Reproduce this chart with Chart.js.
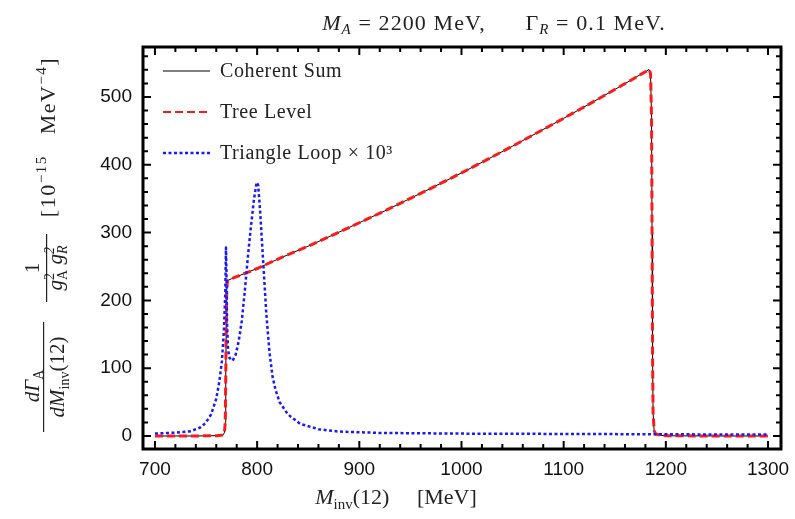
<!DOCTYPE html>
<html>
<head>
<meta charset="utf-8">
<script src="https://cdn.jsdelivr.net/npm/chart.js@4.4.0/dist/chart.umd.min.js"></script>
<style>
  html, body { margin: 0; background: #fff; }
  #wrap { width: 795px; height: 519px; }
</style>
</head>
<body>
<div id="wrap"><canvas id="chart"></canvas></div>
<script>
// values (MeV, 10^-15 MeV^-4)
const massTree = [700, 740, 760, 765, 767, 768, 768.8, 769.3, 769.8, 770.3, 771, 775, 780, 800, 825, 850, 875, 900, 925, 950,
  975, 1000, 1025, 1050, 1075, 1100, 1125, 1150, 1165, 1175, 1181, 1183.5, 1185, 1186, 1186.5, 1187, 1187.5, 1188.5, 1190, 1195,
  1200, 1250, 1300];
const treeLevel = [0, 0, 0.5, 1, 2, 5, 20, 90, 170, 215, 229, 232, 235, 247, 264, 280, 297, 314.5, 332, 350.5,
  369, 388, 407.5, 427.5, 448, 468.5, 489.5, 511, 524, 533, 538, 540.5, 535, 470, 300, 120, 35, 8, 3, 1,
  0.3, 0, 0];
const coherentSum = [0, 0, 0.5, 1, 2, 5, 20, 90, 170, 215, 229, 232, 235, 247, 264, 280, 297, 314.5, 332, 350.5,
  369, 388, 407.5, 427.5, 448, 468.5, 489.5, 511, 524, 533, 538, 540.5, 535, 470, 300, 120, 35, 8, 3, 1,
  0.3, 0, 0];

const massLoop = [700, 720, 735, 745, 750, 755, 760, 763, 765.5, 767.5, 768.8, 769.5, 770, 770.5, 771.5, 773, 776, 779, 782, 785,
  788, 791, 794, 797, 799.5, 801, 803, 806, 809, 812, 815, 818, 822, 830, 842, 860, 880, 920, 1000, 1100,
  1200, 1300];
const triangleLoop = [3.5, 5, 7, 13, 20, 32, 55, 80, 110, 156, 210, 278, 240, 170, 128, 115, 111, 120, 140, 170,
  215, 265, 310, 350, 374, 370, 330, 255, 180, 125, 88, 68, 50, 32, 18, 10, 6.5, 4.5, 3.5, 3,
  2.5, 2];

const seriesLabels = ['Coherent Sum', 'Tree Level', 'Triangle Loop \u00d7 10\u00b3'];
const xTicks = [700, 800, 900, 1000, 1100, 1200, 1300];
const yTicks = [0, 100, 200, 300, 400, 500];
const minorStep = 20;

const SERIF = '"Liberation Serif", "Times New Roman", serif';
const fnt = (size, italic) => (italic ? 'italic ' : '') + size + 'px ' + SERIF;

function pts(xs, ys) {
  return ys.map((v, i) => ({ x: xs[i], y: v }));
}

// little helper for text with sub/superscripts
function measureRuns(ctx, runs) {
  let w = 0;
  runs.forEach(r => {
    ctx.font = r.f;
    if (r.stack) {
      r.w = Math.max(ctx.measureText(r.stack[0]).width, ctx.measureText(r.stack[1]).width);
    } else {
      r.w = ctx.measureText(r.t).width;
    }
    w += r.w;
  });
  return w;
}
function drawRuns(ctx, runs, cx, base) {
  const w = measureRuns(ctx, runs);
  let x = cx - w / 2;
  runs.forEach(r => {
    ctx.font = r.f;
    if (r.stack) {
      ctx.fillText(r.stack[0], x, base - 8);
      ctx.fillText(r.stack[1], x, base + 5);
    } else {
      ctx.fillText(r.t, x, base + (r.dy || 0));
    }
    x += r.w;
  });
}

const framePlugin = {
  id: 'frame',
  afterDatasetsDraw(chart) {
    const ctx = chart.ctx;
    const a = chart.chartArea;
    const xs = chart.scales.x, ys = chart.scales.y;
    ctx.save();
    ctx.strokeStyle = '#000';
    ctx.lineWidth = 3;
    ctx.strokeRect(a.left, a.top, a.right - a.left, a.bottom - a.top);

    ctx.lineWidth = 2;
    ctx.beginPath();
    for (let v = xTicks[0]; v <= xTicks[xTicks.length - 1]; v += minorStep) {
      const len = v % 100 === 0 ? 8 : 5;
      const px = xs.getPixelForValue(v);
      ctx.moveTo(px, a.bottom); ctx.lineTo(px, a.bottom - len);
      ctx.moveTo(px, a.top); ctx.lineTo(px, a.top + len);
    }
    for (let v = yTicks[0]; v <= ys.max; v += minorStep) {
      const len = v % 100 === 0 ? 8 : 5;
      const py = ys.getPixelForValue(v);
      ctx.moveTo(a.left, py); ctx.lineTo(a.left + len, py);
      ctx.moveTo(a.right, py); ctx.lineTo(a.right - len, py);
    }
    ctx.stroke();

    // legend
    ctx.textBaseline = 'middle';
    ctx.letterSpacing = '0.6px';
    chart.data.datasets.forEach((ds, i) => {
      const y = a.top + 24 + i * 41;
      ctx.strokeStyle = ds.borderColor;
      ctx.lineWidth = ds.legendWidth;
      ctx.setLineDash(ds.borderDash || []);
      ctx.beginPath();
      ctx.moveTo(a.left + 20, y);
      ctx.lineTo(a.left + 67, y);
      ctx.stroke();
      ctx.setLineDash([]);
      ctx.fillStyle = '#222';
      ctx.font = fnt(20);
      ctx.fillText(ds.label, a.left + 77, y + 1);
    });
    ctx.restore();
  },
  afterDraw(chart) {
    const ctx = chart.ctx;
    ctx.save();
    ctx.fillStyle = '#222';
    ctx.textBaseline = 'alphabetic';

    // title
    ctx.letterSpacing = '1.1px';
    drawRuns(ctx, [
      { t: 'M', f: fnt(22, true) }, { t: 'A', f: fnt(15, true), dy: 4 },
      { t: ' = 2200 MeV,      \u0393', f: fnt(22) }, { t: 'R', f: fnt(15, true), dy: 4 },
      { t: ' = 0.1 MeV.', f: fnt(22) }
    ], 494, 30);
    ctx.letterSpacing = '0px';

    // x axis title
    drawRuns(ctx, [
      { t: 'M', f: fnt(22, true) }, { t: 'inv', f: fnt(15), dy: 5 },
      { t: '(12)     [MeV]', f: fnt(22) }
    ], 396, 504);

    // y axis title, rotated
    ctx.rotate(-Math.PI / 2);
    drawRuns(ctx, [{ t: 'd\u0393', f: fnt(21, true) }, { t: 'A', f: fnt(14), dy: 4 }], -386, 39);
    drawRuns(ctx, [{ t: 'dM', f: fnt(21, true) }, { t: 'inv', f: fnt(14), dy: 5 }, { t: '(12)', f: fnt(21) }], -377, 64);
    ctx.fillRect(-432, 43, 110, 1.2);
    drawRuns(ctx, [{ t: '1', f: fnt(21) }], -268, 39);
    drawRuns(ctx, [{ t: 'g', f: fnt(21, true) }, { stack: ['2', 'A'], f: fnt(14) }, { t: ' g', f: fnt(21, true) },
      { stack: ['2', 'R'], f: fnt(14, true) }], -268, 62);
    ctx.fillRect(-302, 46, 68, 1.2);
    ctx.letterSpacing = '1.5px';
    drawRuns(ctx, [{ t: '[10', f: fnt(22) }, { t: '\u221215', f: fnt(15), dy: -9 }, { t: '   MeV', f: fnt(22) },
      { t: '\u22124', f: fnt(15), dy: -9 }, { t: ']', f: fnt(22) }], -137, 55);
    ctx.restore();
  }
};

const tickFont = { family: '"Liberation Sans", Arial, sans-serif', size: 19 };

new Chart(document.getElementById('chart'), {
  type: 'line',
  data: {
    datasets: [
      { label: seriesLabels[0], data: pts(massTree, coherentSum), borderColor: '#000', borderWidth: 1, legendWidth: 1.2, order: 3 },
      { label: seriesLabels[1], data: pts(massTree, treeLevel), borderColor: 'rgb(255,25,25)', borderWidth: 3, legendWidth: 2, borderDash: [8, 4], order: 2 },
      { label: seriesLabels[2], data: pts(massLoop, triangleLoop), borderColor: 'rgb(25,25,255)', borderWidth: 2.5, legendWidth: 2.5, borderDash: [3, 2.5], order: 1 }
    ]
  },
  options: {
    responsive: true,
    maintainAspectRatio: false,
    animation: false,
    elements: { point: { radius: 0 }, line: { tension: 0, borderJoinStyle: 'round' } },
    layout: { padding: { top: 47, right: 14, left: 0, bottom: 0 } },
    plugins: { legend: { display: false }, tooltip: { enabled: false }, title: { display: false } },
    scales: {
      x: {
        type: 'linear', min: 688.3, max: 1312.7,
        grid: { display: false }, border: { display: false },
        ticks: { callback: v => String(v), font: tickFont, color: '#111', padding: 1, maxRotation: 0 },
        afterBuildTicks(s) { s.ticks = xTicks.map(v => ({ value: v })); },
        afterFit(s) { s.height = 70; }
      },
      y: {
        type: 'linear', min: -19.2, max: 573.7,
        grid: { display: false }, border: { display: false },
        ticks: { callback: v => String(v), font: tickFont, color: '#111', padding: 3 },
        afterBuildTicks(s) { s.ticks = yTicks.map(v => ({ value: v })); },
        afterFit(s) { s.width = 143; }
      }
    }
  },
  plugins: [framePlugin]
});
</script>
</body>
</html>
